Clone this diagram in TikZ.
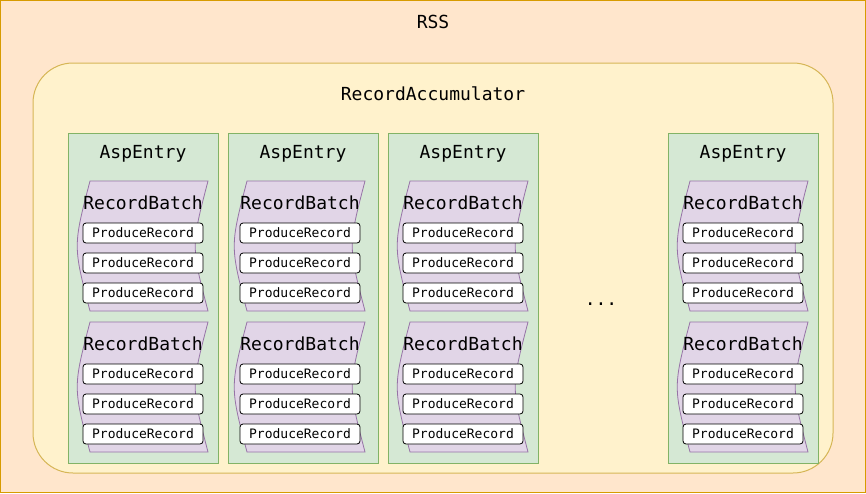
\documentclass[tikz,border=0pt]{standalone}
\usepackage{fontspec}
\setmonofont{DejaVu Sans Mono}
\definecolor{rssfill}{HTML}{FFE6CC}
\definecolor{rssline}{HTML}{D79B00}
\definecolor{accfill}{HTML}{FFF2CC}
\definecolor{accline}{HTML}{D6B656}
\definecolor{aspfill}{HTML}{D5E8D4}
\definecolor{aspline}{HTML}{82B366}
\definecolor{rbfill}{HTML}{E1D5E7}
\definecolor{rbline}{HTML}{9673A6}
\tikzset{
  bigtext/.style={font=\ttfamily\fontsize{18}{20}\selectfont, inner sep=0pt},
  rssbox/.style={draw=rssline, fill=rssfill, line width=1.2pt},
  accbox/.style={draw=accline, fill=accfill, line width=1pt, rounded corners=40pt},
  aspbox/.style={draw=aspline, fill=aspfill, line width=1pt},
  rbshape/.style={draw=rbline, fill=rbfill, line width=0.8pt},
  prbox/.style={draw=black, fill=white, line width=0.8pt, rounded corners=3pt,
    minimum width=120pt, minimum height=20pt, inner sep=0pt, font=\ttfamily\fontsize{13}{15}\selectfont},
}
\begin{document}
\begin{tikzpicture}[x=1pt,y=-1pt]
\useasboundingbox (0,0) rectangle (866,493);
\draw[rssbox] (0.6,0.6) rectangle (865.4,492.4);
\node[bigtext] (rss) at (433,22) {RSS};
\draw[accbox] (33,63) rectangle (833,473);
\node[bigtext] (acc) at (433,94) {RecordAccumulator};
\foreach \cx/\bx/\i in {68/83/1, 228/240/2, 388/403/3, 668/683/4} {
  \draw[aspbox] (\cx,133) rectangle ++(150,330);
  \node[bigtext] (asp\i) at ({\cx+75},154) {AspEntry};
  \foreach \ty/\j in {181/1, 322/2} {
    \pgfmathsetmacro{\a}{\bx+7}
    \pgfmathsetmacro{\b}{\bx+125}
    \pgfmathsetmacro{\bot}{\ty+130}
    \pgfmathsetmacro{\mid}{\ty+65}
    \draw[rbshape] (\a,\ty) -- (\b,\ty)
      .. controls ({\b-17},\mid) .. (\b,\bot)
      -- (\a,\bot)
      .. controls ({\a-17},\mid) .. (\a,\ty) -- cycle;
    \node[bigtext] (rb\i\j) at ({\bx+60},{\ty+22}) {RecordBatch};
    \foreach \k in {1,2,3} {
      \node[prbox] (pr\i\j\k) at ({\bx+60},{\ty+22+30*\k}) {ProduceRecord};
    }
  }
}
\node[bigtext, anchor=base] (dots) at (601,305) {...};
\end{tikzpicture}
\end{document}
